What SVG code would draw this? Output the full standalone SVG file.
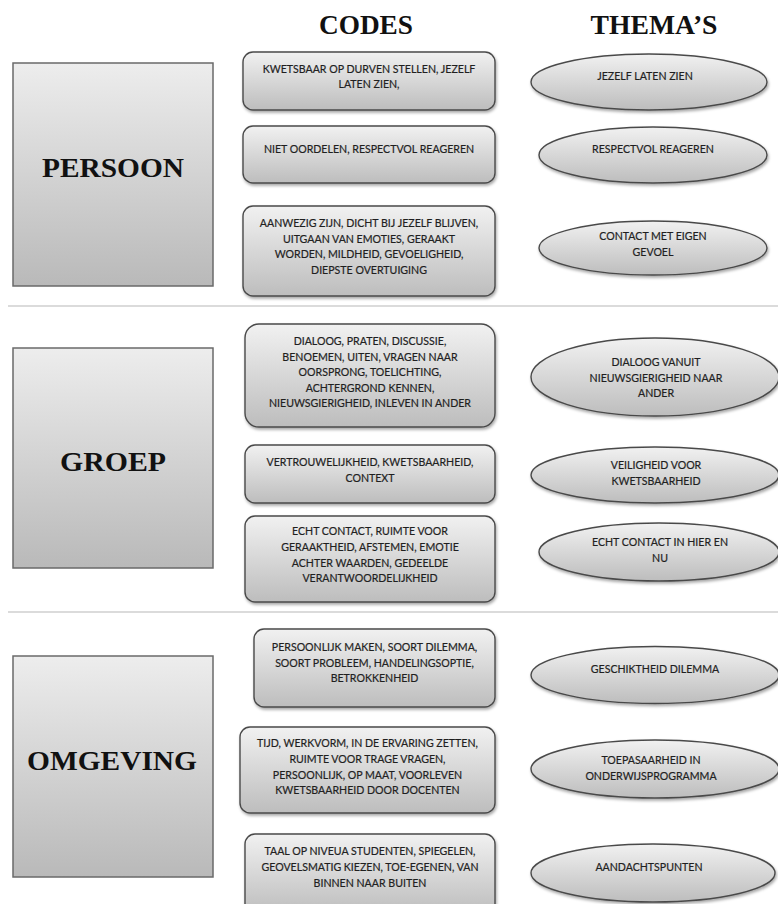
<svg xmlns="http://www.w3.org/2000/svg" width="778" height="904" viewBox="0 0 778 904">
<defs>
<linearGradient id="gBig" x1="0" y1="0" x2="0" y2="1">
<stop offset="0" stop-color="#ededed"/><stop offset="1" stop-color="#b9b9b9"/>
</linearGradient>
<linearGradient id="gBox" x1="0" y1="0" x2="0" y2="1">
<stop offset="0" stop-color="#f1f1f1"/><stop offset="1" stop-color="#bdbdbd"/>
</linearGradient>
<filter id="sh" x="-10%" y="-10%" width="120%" height="130%">
<feDropShadow dx="1" dy="2" stdDeviation="1.5" flood-color="#000" flood-opacity="0.35"/>
</filter>
<style>
.big{fill:url(#gBig);stroke:#6a6a6a;stroke-width:1.5}
.code{fill:url(#gBox);stroke:#4a4a4a;stroke-width:1.4;filter:url(#sh)}
.thema{fill:url(#gBox);stroke:#4a4a4a;stroke-width:1.4;filter:url(#sh)}
.hd{font-family:"Liberation Serif","Times New Roman",serif;font-weight:bold;font-size:27px;fill:#111;text-anchor:middle}
.lbl{font-family:"Liberation Serif","Times New Roman",serif;font-weight:bold;font-size:28px;fill:#111;text-anchor:middle}
.t{font-family:Lato,"Open Sans",sans-serif;font-size:10.6px;fill:#1c1c1c;stroke:#2a2a2a;stroke-width:0.2;text-anchor:middle}
.sep{stroke:#cfcfcf;stroke-width:1.5}
</style>
</defs>
<rect width="778" height="904" fill="#fff"/>

<g id="headers">
<text class="hd" x="366" y="34" textLength="94" lengthAdjust="spacingAndGlyphs">CODES</text>
<text class="hd" x="654" y="34" textLength="127" lengthAdjust="spacingAndGlyphs">THEMA’S</text>
</g>

<g id="separators">
<line class="sep" x1="8" y1="306" x2="778" y2="306"/>
<line class="sep" x1="8" y1="612" x2="778" y2="612"/>
</g>

<g id="persoon">
<rect class="big" x="13" y="63" width="200" height="223"/>
<text class="lbl" x="113" y="177" textLength="142" lengthAdjust="spacingAndGlyphs">PERSOON</text>
</g>
<g id="groep">
<rect class="big" x="13" y="348" width="200" height="220"/>
<text class="lbl" x="113" y="471" textLength="106" lengthAdjust="spacingAndGlyphs">GROEP</text>
</g>
<g id="omgeving">
<rect class="big" x="13" y="656" width="200" height="221"/>
<text class="lbl" x="112" y="770" textLength="170" lengthAdjust="spacingAndGlyphs">OMGEVING</text>
</g>

<g id="code-p1">
<rect class="code" x="243" y="52" width="252" height="58" rx="10"/>
<text class="t" x="369" y="73">KWETSBAAR OP DURVEN STELLEN, JEZELF</text>
<text class="t" x="369" y="88">LATEN ZIEN,</text>
</g>
<g id="code-p2">
<rect class="code" x="243" y="126" width="252" height="57" rx="10"/>
<text class="t" x="369" y="153">NIET OORDELEN, RESPECTVOL REAGEREN</text>
</g>
<g id="code-p3">
<rect class="code" x="243" y="206" width="252" height="90" rx="10"/>
<text class="t" x="369" y="227">AANWEZIG ZIJN, DICHT BIJ JEZELF BLIJVEN,</text>
<text class="t" x="369" y="242.5">UITGAAN VAN EMOTIES, GERAAKT</text>
<text class="t" x="369" y="258">WORDEN, MILDHEID, GEVOELIGHEID,</text>
<text class="t" x="369" y="273.5">DIEPSTE OVERTUIGING</text>
</g>

<g id="thema-p1">
<ellipse class="thema" cx="649" cy="82" rx="118" ry="28"/>
<text class="t" x="645" y="80">JEZELF LATEN ZIEN</text>
</g>
<g id="thema-p2">
<ellipse class="thema" cx="653" cy="155" rx="114" ry="28"/>
<text class="t" x="653" y="153">RESPECTVOL REAGEREN</text>
</g>
<g id="thema-p3">
<ellipse class="thema" cx="653" cy="248" rx="114" ry="27"/>
<text class="t" x="653" y="240">CONTACT MET EIGEN</text>
<text class="t" x="653" y="256">GEVOEL</text>
</g>

<g id="code-g1">
<rect class="code" x="245" y="324" width="250" height="103" rx="14"/>
<text class="t" x="370" y="345">DIALOOG, PRATEN, DISCUSSIE,</text>
<text class="t" x="370" y="360.5">BENOEMEN, UITEN, VRAGEN NAAR</text>
<text class="t" x="370" y="376">OORSPRONG, TOELICHTING,</text>
<text class="t" x="370" y="391.5">ACHTERGROND KENNEN,</text>
<text class="t" x="370" y="407">NIEUWSGIERIGHEID, INLEVEN IN ANDER</text>
</g>
<g id="code-g2">
<rect class="code" x="245" y="445" width="250" height="58" rx="10"/>
<text class="t" x="370" y="466">VERTROUWELIJKHEID, KWETSBAARHEID,</text>
<text class="t" x="370" y="481.5">CONTEXT</text>
</g>
<g id="code-g3">
<rect class="code" x="245" y="516" width="250" height="86" rx="10"/>
<text class="t" x="370" y="535">ECHT CONTACT, RUIMTE VOOR</text>
<text class="t" x="370" y="551">GERAAKTHEID, AFSTEMEN, EMOTIE</text>
<text class="t" x="370" y="566.5">ACHTER WAARDEN, GEDEELDE</text>
<text class="t" x="370" y="582">VERANTWOORDELIJKHEID</text>
</g>

<g id="thema-g1">
<ellipse class="thema" cx="655" cy="377" rx="124" ry="39"/>
<text class="t" x="656" y="366">DIALOOG VANUIT</text>
<text class="t" x="656" y="381.5">NIEUWSGIERIGHEID NAAR</text>
<text class="t" x="656" y="397">ANDER</text>
</g>
<g id="thema-g2">
<ellipse class="thema" cx="655" cy="475" rx="124" ry="28"/>
<text class="t" x="656" y="469">VEILIGHEID VOOR</text>
<text class="t" x="656" y="485">KWETSBAARHEID</text>
</g>
<g id="thema-g3">
<ellipse class="thema" cx="659" cy="552" rx="120" ry="29"/>
<text class="t" x="660" y="546">ECHT CONTACT IN HIER EN</text>
<text class="t" x="660" y="562">NU</text>
</g>

<g id="code-o1">
<rect class="code" x="254" y="629" width="241" height="78" rx="10"/>
<text class="t" x="374.5" y="651">PERSOONLIJK MAKEN, SOORT DILEMMA,</text>
<text class="t" x="374.5" y="666.5">SOORT PROBLEEM, HANDELINGSOPTIE,</text>
<text class="t" x="374.5" y="682">BETROKKENHEID</text>
</g>
<g id="code-o2">
<rect class="code" x="240" y="727" width="255" height="86" rx="10"/>
<text class="t" x="367.5" y="747">TIJD, WERKVORM, IN DE ERVARING ZETTEN,</text>
<text class="t" x="367.5" y="763">RUIMTE VOOR TRAGE VRAGEN,</text>
<text class="t" x="367.5" y="778.5">PERSOONLIJK, OP MAAT, VOORLEVEN</text>
<text class="t" x="367.5" y="794">KWETSBAARHEID DOOR DOCENTEN</text>
</g>
<g id="code-o3">
<rect class="code" x="245" y="834" width="250" height="80" rx="10"/>
<text class="t" x="370" y="855">TAAL OP NIVEUA STUDENTEN, SPIEGELEN,</text>
<text class="t" x="370" y="871">GEOVELSMATIG KIEZEN, TOE-EGENEN, VAN</text>
<text class="t" x="370" y="886.5">BINNEN NAAR BUITEN</text>
</g>

<g id="thema-o1">
<ellipse class="thema" cx="655" cy="675" rx="124" ry="28.5"/>
<text class="t" x="655" y="673">GESCHIKTHEID DILEMMA</text>
</g>
<g id="thema-o2">
<ellipse class="thema" cx="655" cy="769" rx="124" ry="29"/>
<text class="t" x="651" y="764">TOEPASAARHEID IN</text>
<text class="t" x="651" y="780">ONDERWIJSPROGRAMMA</text>
</g>
<g id="thema-o3">
<ellipse class="thema" cx="653" cy="873" rx="122" ry="29"/>
<text class="t" x="649" y="871">AANDACHTSPUNTEN</text>
</g>
</svg>
